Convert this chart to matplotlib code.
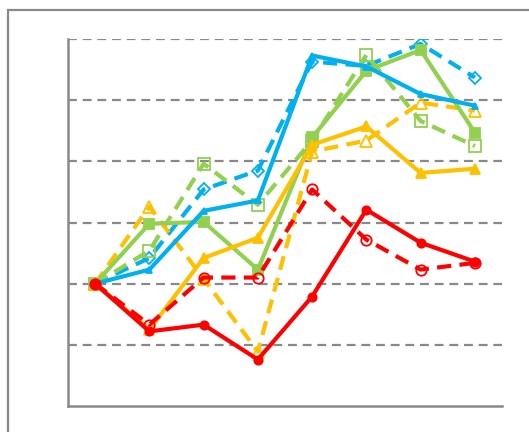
import matplotlib
matplotlib.use("Agg")
import matplotlib.pyplot as plt
from matplotlib.patches import Rectangle

# Index values (start = 100) for eight periods
periods = ["1", "2", "3", "4", "5", "6", "7", "8"]

red_solid = [100, 92.2, 93.3, 87.6, 97.9, 112.1, 106.7, 103.6]
red_dashed = [100, 93.3, 101.0, 101.0, 115.4, 107.2, 102.3, 103.4]
yellow_solid = [100, 92.5, 104.2, 107.5, 122.7, 125.7, 118.1, 118.8]
yellow_dashed = [100, 112.6, 100.8, 88.9, 121.6, 123.4, 129.6, 128.3]
green_solid = [100, 109.8, 110.1, 102.3, 123.9, 134.8, 138.2, 124.7]
green_dashed = [100, 105.4, 119.6, 112.9, 123.4, 137.4, 126.6, 122.5]
blue_solid = [100, 102.3, 111.9, 113.6, 137.3, 135.5, 131.0, 129.1]
blue_dashed = [100, 104.2, 115.4, 118.5, 136.3, 135.6, 139.2, 133.7]

grid_values = [90, 100, 110, 120, 130, 140]

RED = "#FF0000"
YELLOW = "#FFC000"
GREEN = "#92D050"
BLUE = "#00B0F0"
GRAY = "#898989"

fig = plt.figure(figsize=(5.29, 4.32), dpi=100)
ax = fig.add_axes([68 / 529, 1 - 406 / 432, (502 - 68) / 529, (406 - 39) / 432])

x = list(range(len(periods)))
lw = 3.0
dash = (3.4, 2.0)

# outer frame
fig.patches.append(Rectangle((8 / 529, -0.2), 1.2, 1 - 10 / 432 + 0.2,
                             transform=fig.transFigure, fill=False,
                             edgecolor=GRAY, linewidth=1.6, clip_on=False))

for gv in grid_values:
    ax.axhline(gv, color=GRAY, linewidth=1.6, linestyle=(0, (4, 2.6)), zorder=1)

def draw(vals, color, dashed, marker, ms, filled):
    ax.plot(x, vals, color=color, linewidth=lw,
            linestyle=(0, dash) if dashed else "-",
            marker=marker, markersize=ms,
            markerfacecolor=color if filled else "none",
            markeredgecolor=color, markeredgewidth=1.3,
            solid_capstyle="round", dash_capstyle="butt", zorder=3)

draw(blue_dashed, BLUE, True, "D", 6.5, False)
draw(green_dashed, GREEN, True, "s", 8, False)
draw(yellow_dashed, YELLOW, True, "^", 8, False)
draw(green_solid, GREEN, False, "s", 6.5, True)
draw(blue_solid, BLUE, False, "^", 4, True)
draw(yellow_solid, YELLOW, False, "^", 7, True)
draw(red_dashed, RED, True, "o", 7.5, False)
draw(red_solid, RED, False, "o", 6, True)

ax.set_xlim(-0.5, len(periods) - 0.5)
ax.set_ylim(80, 140)
ax.set_xticks(x)
ax.set_xticklabels([])
ax.set_yticks([])
ax.tick_params(axis="both", length=0)

for side in ("top", "right"):
    ax.spines[side].set_visible(False)
for side in ("left", "bottom"):
    ax.spines[side].set_color(GRAY)
    ax.spines[side].set_linewidth(1.8)

fig.savefig("out.png", dpi=100)
